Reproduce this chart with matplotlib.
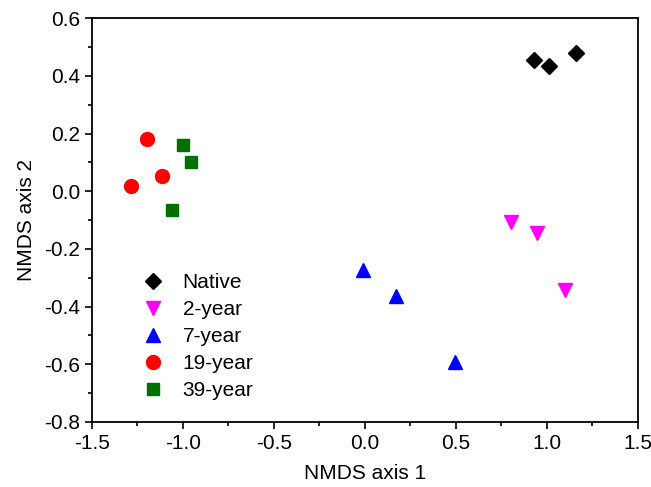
import matplotlib
matplotlib.use("Agg")
from matplotlib import pyplot as plt
from matplotlib.ticker import MultipleLocator

plt.rcParams['font.family'] = ['Liberation Sans', 'DejaVu Sans']

# NMDS scores
native_x = [0.93, 1.01, 1.16]
native_y = [0.455, 0.436, 0.479]
y2_x = [0.80, 0.945, 1.10]
y2_y = [-0.108, -0.143, -0.342]
y7_x = [-0.013, 0.17, 0.495]
y7_y = [-0.272, -0.362, -0.592]
y19_x = [-1.20, -1.114, -1.284]
y19_y = [0.181, 0.053, 0.017]
y39_x = [-1.0, -0.956, -1.06]
y39_y = [0.161, 0.101, -0.066]

fig = plt.figure(figsize=(6.51, 4.87), dpi=100)
ax = fig.add_axes([0.1413, 0.1335, 0.8387, 0.8289])

ax.plot(native_x, native_y, 'D', color='black', ms=8, ls='none', label='Native')
ax.plot(y2_x, y2_y, 'v', color='#ff00ff', ms=10, ls='none', label='2-year')
ax.plot(y7_x, y7_y, '^', color='#0000ff', ms=10, ls='none', label='7-year')
ax.plot(y19_x, y19_y, 'o', color='#ff0000', ms=10, ls='none', label='19-year')
ax.plot(y39_x, y39_y, 's', color='#007000', ms=8, ls='none', label='39-year')

ax.set_xlim(-1.5, 1.5)
ax.set_ylim(-0.8, 0.6)
ax.xaxis.set_major_locator(MultipleLocator(0.5))
ax.xaxis.set_minor_locator(MultipleLocator(0.25))
ax.yaxis.set_major_locator(MultipleLocator(0.2))
ax.yaxis.set_minor_locator(MultipleLocator(0.1))
ax.xaxis.set_major_formatter(plt.FormatStrFormatter('%.1f'))
ax.yaxis.set_major_formatter(plt.FormatStrFormatter('%.1f'))
ax.tick_params(which='major', direction='out', length=5, width=1.2, labelsize=15)
ax.tick_params(which='minor', direction='out', length=3, width=1.2)
for s in ax.spines.values():
    s.set_linewidth(1.3)

ax.set_xlabel('NMDS axis 1', fontsize=15, labelpad=8)
ax.set_ylabel('NMDS axis 2', fontsize=15, labelpad=6)

ax.legend(loc='center left', bbox_to_anchor=(0.059, 0.211), frameon=False,
          fontsize=15, handletextpad=0.9, labelspacing=0.38, handlelength=1.0)

fig.savefig('out.png', dpi=100)
